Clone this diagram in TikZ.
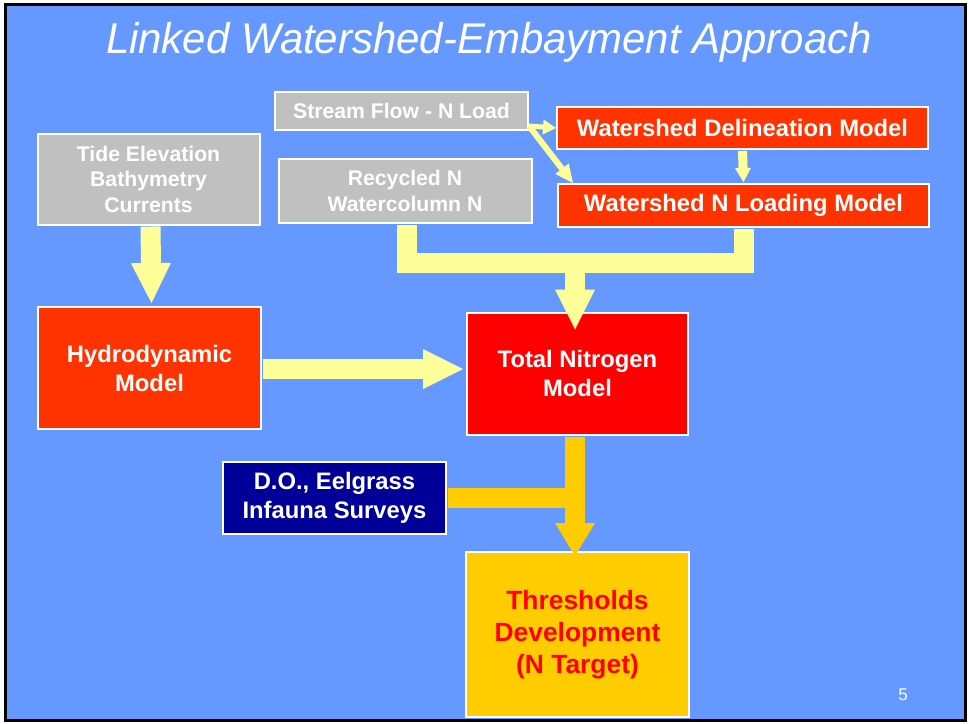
\documentclass[tikz,border=0pt]{standalone}
\usepackage{fontspec}
\setmainfont{Liberation Sans}
\usetikzlibrary{arrows.meta,calc}
\definecolor{bgblue}{HTML}{6699FF}
\definecolor{boxgray}{HTML}{C0C0C0}
\definecolor{boxorange}{HTML}{FF3300}
\definecolor{boxred}{HTML}{FF0000}
\definecolor{boxnavy}{HTML}{000099}
\definecolor{boxgold}{HTML}{FFCC00}
\definecolor{arrowyellow}{HTML}{FFFF99}
\begin{document}
\begin{tikzpicture}[x=1pt,y=-1pt,
  box/.style={draw=white,line width=2pt,inner sep=0pt,align=center,text=white,
    font=\bfseries\fontsize{21.2}{25.5}\selectfont},
  wstext/.style={font=\bfseries\fontsize{23.8}{28}\selectfont},
  bigtext/.style={font=\bfseries\fontsize{23.8}{29}\selectfont},
  yelline/.style={draw=arrowyellow,line width=20pt},
  yelarrow/.style={draw=arrowyellow,line width=20pt,
    -{Triangle[length=40pt,width=40pt,line width=0pt]}},
  goldline/.style={draw=boxgold,line width=20pt},
  goldarrow/.style={draw=boxgold,line width=20pt,
    -{Triangle[length=33pt,width=40pt,line width=0pt]}},
]
\useasboundingbox (0,0) rectangle (969,723);
\fill[white] (0,0) rectangle (969,723);
\draw[black,line width=3pt,fill=bgblue] (5,4) rectangle (965,720);

\node[text=white,anchor=base,font=\itshape\fontsize{43}{43}\selectfont] (title) at (489,53)
  {\scalebox{0.975}[1]{Linked Watershed-Embayment Approach}};

\node[box,fill=boxgray,minimum width=253pt,minimum height=38pt] (sf) at (401.5,111) {Stream Flow - N Load};
\node[box,fill=boxgray,minimum width=253pt,minimum height=64pt] (rec) at (405,191) {Recycled N\\Watercolumn N};
\node[box,wstext,fill=boxorange,minimum width=371pt,minimum height=42pt] (del) at (742.5,128) {Watershed Delineation Model};
\node[box,wstext,fill=boxorange,minimum width=371pt,minimum height=43pt] (nload) at (743.5,205.5) {Watershed N Loading Model};
\node[box,fill=boxgray,minimum width=222pt,minimum height=91pt] (tide) at (148.5,179) {Tide Elevation\\Bathymetry\\Currents};
\node[box,bigtext,fill=boxorange,minimum width=223pt,minimum height=122pt] (hydro) at (149.5,368) {Hydrodynamic\\Model};
\node[box,bigtext,fill=boxred,minimum width=221pt,minimum height=122pt] (tn) at (577.5,373.5) {Total Nitrogen\\Model};
\node[box,bigtext,fill=boxnavy,minimum width=223pt,minimum height=72pt] (do) at (334.5,498) {D.O., Eelgrass\\Infauna Surveys};
\node[box,fill=boxgold,text=boxred,minimum width=223pt,minimum height=165pt,
  font=\bfseries\fontsize{26.4}{32}\selectfont] (thr) at (577.5,634.5) {Thresholds\\Development\\(N Target)};

\node[text=white,font=\fontsize{17}{17}\selectfont] (pg) at (903,695) {5};

% big arrows
\draw[yelarrow] ($(tide.south)+(2,1)$) -- ($(hydro.north)+(2,-3)$);
\draw[yelarrow] ($(hydro.east)+(1,1)$) -- ($(hydro.east -| tn.west)+(-3,1)$);

\coordinate (bar) at (575,263);
\coordinate (m1) at ($(rec.south)+(2,1)$);
\coordinate (m2) at ($(nload.south)+(0,1)$);
\draw[yelline,line join=miter] (m1) -- (m1 |- bar) -- (m2 |- bar) -- (m2);
\draw[yelarrow] (bar) -- ($(tn.north)+(-2.5,18)$);

\draw[goldline] ($(do.east)+(1,0)$) -- ($(do.east -| tn.south)+(-2.5,0)$);
\draw[goldarrow] ($(tn.south)+(-2.5,1)$) -- ($(thr.north)+(-2.5,5)$);

% small arrows
\coordinate (sfc) at ($(sf.south east)+(0,-5)$);
\draw[draw=arrowyellow,line width=5pt,-{Triangle[length=13pt,width=15pt,line width=0pt]}]
  (sfc) -- (del.west);
\draw[draw=arrowyellow,line width=6pt,-{Triangle[length=18pt,width=17pt,line width=0pt]}]
  (sfc) -- ($(nload.north west)+(16,0)$);
\draw[draw=arrowyellow,line width=9pt,-{Triangle[length=14pt,width=16pt,line width=0pt]}]
  ($(del.south)+(0,1)$) -- ($(nload.north)+(0,-1)$);
\end{tikzpicture}
\end{document}
